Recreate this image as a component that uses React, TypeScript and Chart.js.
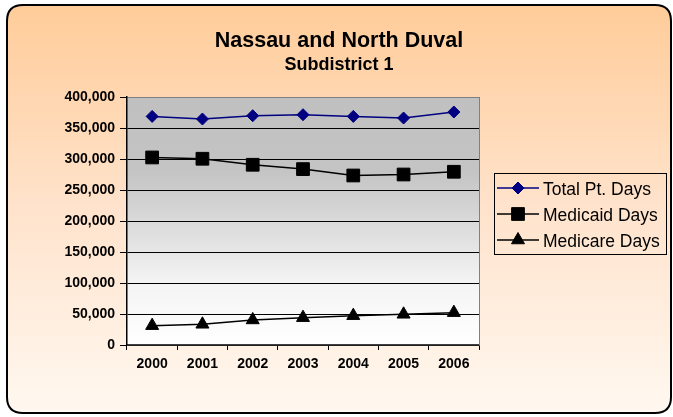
import React, { useEffect, useRef } from "react";
import { Chart, registerables } from "chart.js";

Chart.register(...registerables);

const years = ["2000", "2001", "2002", "2003", "2004", "2005", "2006"];
const totalPtDays = [368700, 364500, 369800, 371400, 368700, 366100, 375800];
const medicaidDays = [302500, 300400, 290700, 283700, 273400, 275000, 279400];
const medicareDays = [31200, 33400, 40400, 44100, 47300, 49500, 52200];
const yTicks = [0, 50000, 100000, 150000, 200000, 250000, 300000, 350000, 400000];
const titleText = "Nassau and North Duval";
const subtitleText = "Subdistrict 1";

const FONT = "Arial, 'Liberation Sans', sans-serif";

function drawMarker(ctx: CanvasRenderingContext2D, style: string, r: number, x: number, y: number) {
  ctx.beginPath();
  if (style === "rectRot") {
    ctx.moveTo(x, y - r);
    ctx.lineTo(x + r, y);
    ctx.lineTo(x, y + r);
    ctx.lineTo(x - r, y);
  } else if (style === "rect") {
    const s = r * Math.SQRT1_2;
    ctx.rect(x - s, y - s, 2 * s, 2 * s);
  } else {
    const h = r * 1.5;
    const half = (r * Math.sqrt(3)) / 2;
    ctx.moveTo(x, y - r);
    ctx.lineTo(x + half, y + h - r);
    ctx.lineTo(x - half, y + h - r);
  }
  ctx.closePath();
  ctx.fill();
  ctx.stroke();
}

const bgPlugin = {
  id: "bgPlugin",
  beforeDraw(chart: any) {
    const { ctx, chartArea } = chart;
    ctx.save();
    const x = 7, y = 5, w = 664, h = 408, r = 16;
    const g = ctx.createLinearGradient(0, y, 0, y + h);
    g.addColorStop(0, "#FFCC99");
    g.addColorStop(0.5, "#FFE3CC");
    g.addColorStop(1, "#FFF8F0");
    ctx.beginPath();
    ctx.moveTo(x + r, y);
    ctx.lineTo(x + w - r, y);
    ctx.quadraticCurveTo(x + w, y, x + w, y + r);
    ctx.lineTo(x + w, y + h - r);
    ctx.quadraticCurveTo(x + w, y + h, x + w - r, y + h);
    ctx.lineTo(x + r, y + h);
    ctx.quadraticCurveTo(x, y + h, x, y + h - r);
    ctx.lineTo(x, y + r);
    ctx.quadraticCurveTo(x, y, x + r, y);
    ctx.closePath();
    ctx.fillStyle = g;
    ctx.fill();
    ctx.lineWidth = 2;
    ctx.strokeStyle = "#000";
    ctx.stroke();
    const pg = ctx.createLinearGradient(0, chartArea.top, 0, chartArea.bottom);
    pg.addColorStop(0, "#C0C0C0");
    pg.addColorStop(0.3, "#C4C4C4");
    pg.addColorStop(0.75, "#F4F4F4");
    pg.addColorStop(1, "#FFFFFF");
    ctx.fillStyle = pg;
    ctx.fillRect(chartArea.left, chartArea.top, chartArea.right - chartArea.left, chartArea.bottom - chartArea.top);
    ctx.fillStyle = "#000";
    ctx.textAlign = "center";
    ctx.textBaseline = "alphabetic";
    ctx.font = `bold 21.5px ${FONT}`;
    ctx.fillText(titleText, 339, 47);
    ctx.font = `bold 18px ${FONT}`;
    ctx.fillText(subtitleText, 339, 70);
    ctx.restore();
  },
  afterDatasetsDraw(chart: any) {
    const { ctx, chartArea } = chart;
    ctx.save();
    ctx.strokeStyle = "#808080";
    ctx.lineWidth = 1;
    ctx.beginPath();
    ctx.moveTo(Math.round(chartArea.right) + 0.5, chartArea.top);
    ctx.lineTo(Math.round(chartArea.right) + 0.5, chartArea.bottom);
    ctx.stroke();
    ctx.restore();
  },
  afterDraw(chart: any) {
    const { ctx } = chart;
    ctx.save();
    const bx = 494.5, by = 173.5, bw = 172, bh = 81;
    ctx.strokeStyle = "#000";
    ctx.lineWidth = 1;
    ctx.strokeRect(bx, by, bw, bh);
    const rows = [188, 214, 240];
    chart.data.datasets.forEach((ds: any, i: number) => {
      const yy = rows[i];
      ctx.strokeStyle = ds.borderColor;
      ctx.lineWidth = 1.5;
      ctx.beginPath();
      ctx.moveTo(497, yy);
      ctx.lineTo(539, yy);
      ctx.stroke();
      ctx.fillStyle = ds.pointBackgroundColor;
      ctx.strokeStyle = ds.borderColor;
      ctx.lineWidth = 1;
      drawMarker(ctx, ds.pointStyle, ds.pointRadius, 518, yy);
      ctx.fillStyle = "#000";
      ctx.font = `17.5px ${FONT}`;
      ctx.textAlign = "left";
      ctx.textBaseline = "alphabetic";
      ctx.fillText(ds.label, 543, yy + 7);
    });
    ctx.restore();
  },
};

export default function App() {
  const ref = useRef<HTMLCanvasElement>(null);
  useEffect(() => {
    document.body.style.margin = "0";
    const chart = new Chart(ref.current!, {
      type: "line",
      data: {
        labels: years,
        datasets: [
          {
            label: "Total Pt. Days",
            data: totalPtDays,
            borderColor: "#000080",
            backgroundColor: "#000080",
            pointBackgroundColor: "#000080",
            pointBorderColor: "#000080",
            pointStyle: "rectRot",
            pointRadius: 6,
            pointBorderWidth: 1,
            borderWidth: 1.5,
          },
          {
            label: "Medicaid Days",
            data: medicaidDays,
            borderColor: "#000000",
            backgroundColor: "#000000",
            pointBackgroundColor: "#000000",
            pointBorderColor: "#000000",
            pointStyle: "rect",
            pointRadius: 9,
            pointBorderWidth: 1,
            borderWidth: 1.5,
          },
          {
            label: "Medicare Days",
            data: medicareDays,
            borderColor: "#000000",
            backgroundColor: "#000000",
            pointBackgroundColor: "#000000",
            pointBorderColor: "#000000",
            pointStyle: "triangle",
            pointRadius: 7.5,
            pointBorderWidth: 1,
            borderWidth: 1.5,
          },
        ] as any,
      },
      options: {
        animation: false,
        responsive: false,
        devicePixelRatio: 1,
        layout: { padding: { top: 97, left: 0, right: 194, bottom: 0 } },
        plugins: { legend: { display: false }, tooltip: { enabled: false }, title: { display: false } },
        scales: {
          x: {
            offset: true,
            afterFit: (s: any) => { s.height = 72; },
            grid: { offset: true, drawOnChartArea: false, drawTicks: true, tickLength: 5, color: "#000" },
            border: { display: true, color: "#404040", width: 1.5 },
            ticks: { color: "#000", font: { family: FONT, size: 14, weight: "bold" }, padding: 6, maxRotation: 0 },
          },
          y: {
            min: 0,
            max: 400000,
            afterFit: (s: any) => { s.width = 127; },
            afterBuildTicks: (s: any) => { s.ticks = yTicks.map((v) => ({ value: v })); },
            grid: {
              color: (c: any) => (c.tick && c.tick.value === 400000 ? "#808080" : "#000"),
              tickColor: "#000",
              tickLength: 7,
              lineWidth: 1,
            },
            border: { display: true, color: "#000", width: 1.5 },
            ticks: {
              color: "#000",
              padding: 5,
              font: { family: FONT, size: 14, weight: "bold" },
              callback: (v: any) => Number(v).toLocaleString("en-US"),
            },
          },
        },
      },
      plugins: [bgPlugin],
    });
    return () => chart.destroy();
  }, []);
  return <canvas ref={ref} width={673} height={417} style={{ display: "block" }} />;
}
